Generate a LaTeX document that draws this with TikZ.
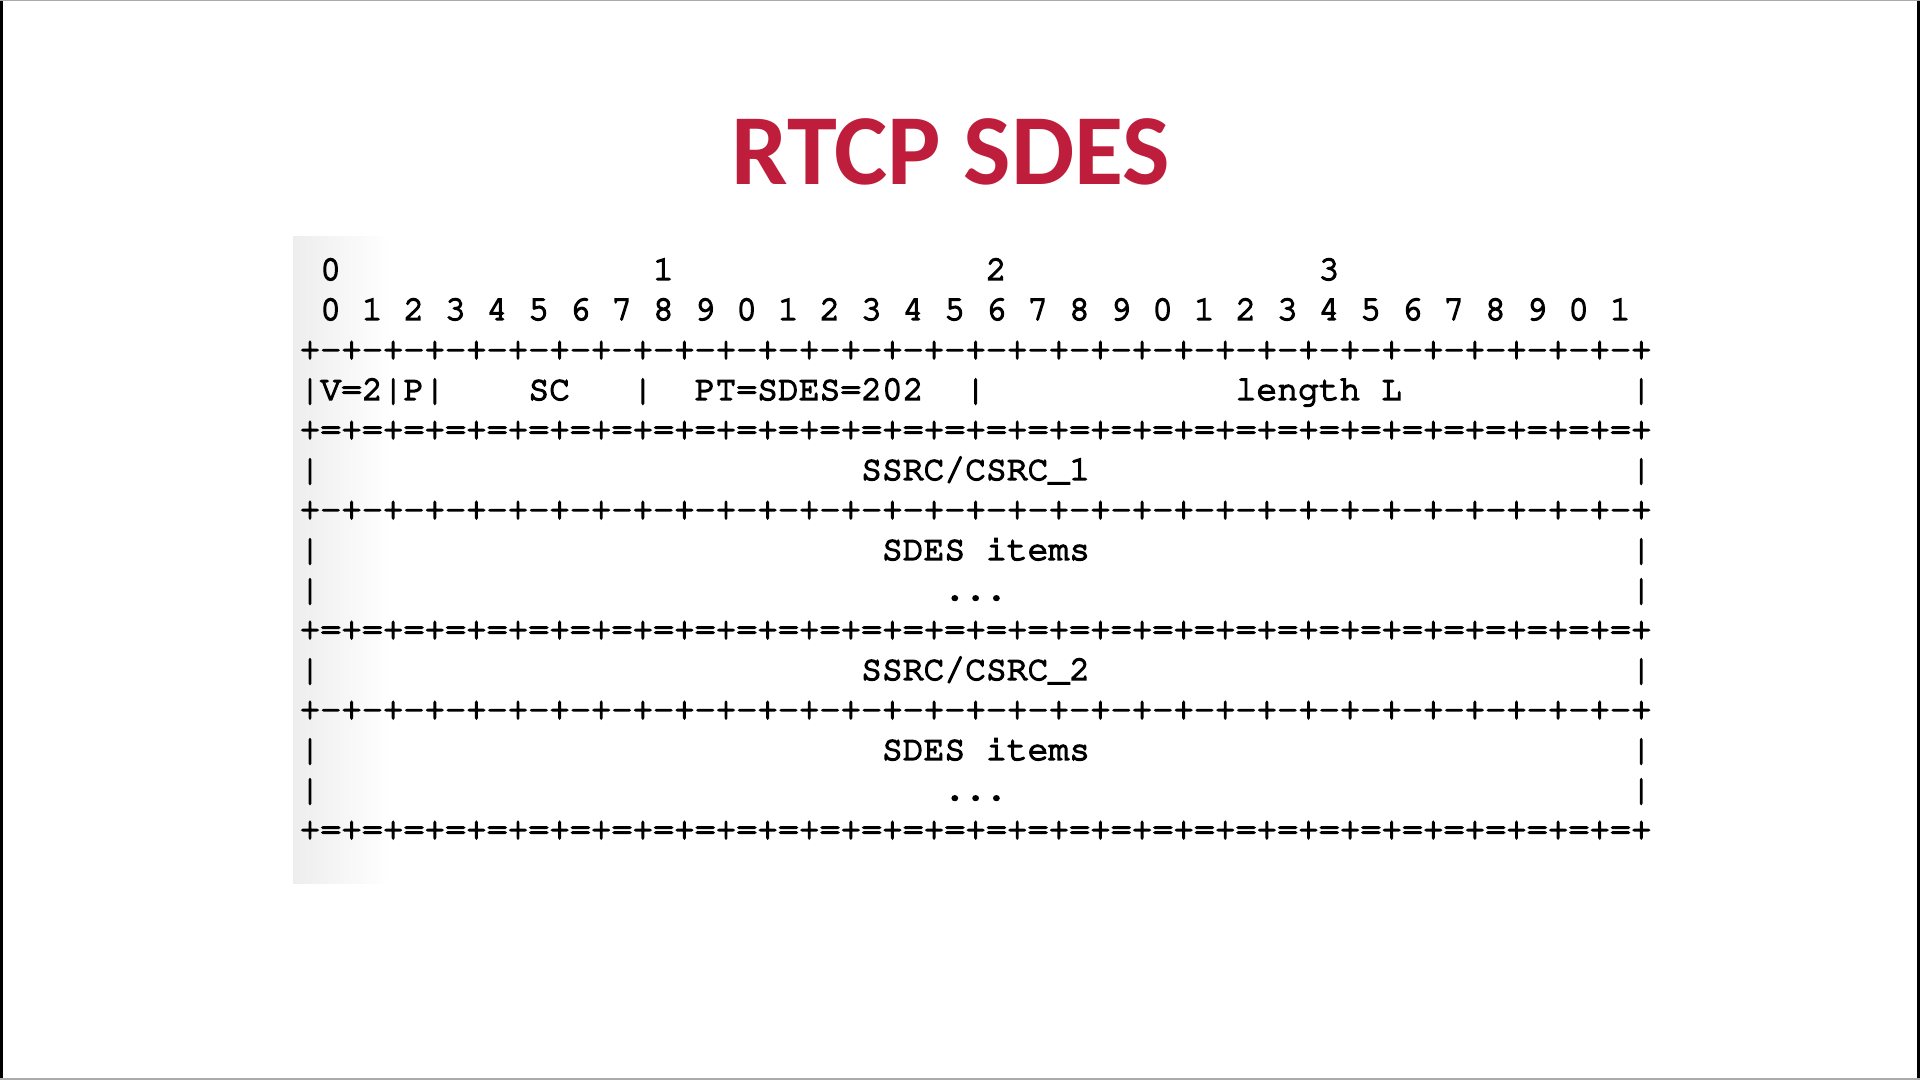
\documentclass[tikz,border=0pt]{standalone}
\usepackage{fontspec}
\usepackage[T1,TU]{fontenc}
\newfontfamily\titlefont{Carlito}
\newcommand\courierfont{\fontencoding{T1}\fontfamily{pcr}\selectfont}
% Courier drawn with fill + stroke so its strokes read a little heavier
\newcommand\heavy[1]{\special{pdf:literal 2 Tr 1.5 w}#1\special{pdf:literal 0 Tr 0.4 w}}
\definecolor{titlered}{RGB}{190,30,60}
\definecolor{framegray}{RGB}{170,170,170}

\begin{document}
\begin{tikzpicture}[x=1pt,y=-1pt,
  ascii/.style={anchor=base west, inner sep=0pt, font=\courierfont\fontsize{34.67}{40}\selectfont},
  bitnum/.style={anchor=base, inner sep=0pt, font=\courierfont\fontsize{34.67}{40}\selectfont},
  titletext/.style={anchor=base, inner sep=0pt, text=titlered, font=\fontsize{100.5}{110}\selectfont\titlefont\bfseries}]
\useasboundingbox (0,0) rectangle (1920,1080);
\fill[white] (0,0) rectangle (1920,1080);

% thin frame of the slide
\fill[black] (0,0) rectangle (3,1080);
\fill[black] (1917,0) rectangle (1920,1080);
\fill[framegray] (0,0) rectangle (1920,1);
\fill[framegray] (0,1078) rectangle (1920,1080);

% soft shadow on the left of the packet panel
\shade[left color=black!7, right color=white] (293,236) rectangle (390,883);

% title
\node[titletext] (title) at (951,184) {RTCP SDES};

% column x of the left edge of a character cell: 299.4 + 20.8*col
% baseline of line k: 279.9 + 40*k

% byte numbers
\foreach \c/\d [count=\i] in {1/0,17/1,33/2,49/3}
  \node[bitnum] (byte\i) at ({309.8+20.8*\c},279.9) {\heavy{\d}};

% bit numbers
\foreach \b in {0,...,31}{
  \pgfmathtruncatemacro{\dig}{mod(\b,10)}
  \node[bitnum] (bit\b) at ({309.8+20.8*(1+2*\b)},319.9) {\heavy{\dig}};
}

% separator lines
\foreach \k/\sep in {2/-,4/=,6/-,9/=,11/-,14/=}
  \node[ascii] (sep\k) at (299.4,{279.9+40*\k})
    {\heavy{+\sep+\sep+\sep+\sep+\sep+\sep+\sep+\sep+\sep+\sep+\sep+\sep+\sep+\sep+\sep+\sep+\sep+\sep+\sep+\sep+\sep+\sep+\sep+\sep+\sep+\sep+\sep+\sep+\sep+\sep+\sep+\sep+}};

% header word
\foreach \c/\t [count=\i] in {0/{|},1/{V=2},4/{|},5/{P},6/{|},11/{SC},16/{|},19/{PT=SDES=202},32/{|},45/{length L},64/{|}}
  \node[ascii] (hdr\i) at ({299.4+20.8*\c},399.9) {\heavy{\t}};

% side bars of the body lines
\foreach \k in {5,7,8,10,12,13}{
  \node[ascii] (lbar\k) at (299.4,{279.9+40*\k}) {\heavy{|}};
  \node[ascii] (rbar\k) at ({299.4+20.8*64},{279.9+40*\k}) {\heavy{|}};
}

% body fields
\node[ascii] (ssrc1)  at ({299.4+20.8*27},{279.9+40*5})  {\heavy{SSRC/CSRC\_1}};
\node[ascii] (items1) at ({299.4+20.8*28},{279.9+40*7})  {\heavy{SDES items}};
\node[ascii] (dots1)  at ({299.4+20.8*31},{279.9+40*8})  {\heavy{...}};
\node[ascii] (ssrc2)  at ({299.4+20.8*27},{279.9+40*10}) {\heavy{SSRC/CSRC\_2}};
\node[ascii] (items2) at ({299.4+20.8*28},{279.9+40*12}) {\heavy{SDES items}};
\node[ascii] (dots2)  at ({299.4+20.8*31},{279.9+40*13}) {\heavy{...}};
\end{tikzpicture}
\end{document}
